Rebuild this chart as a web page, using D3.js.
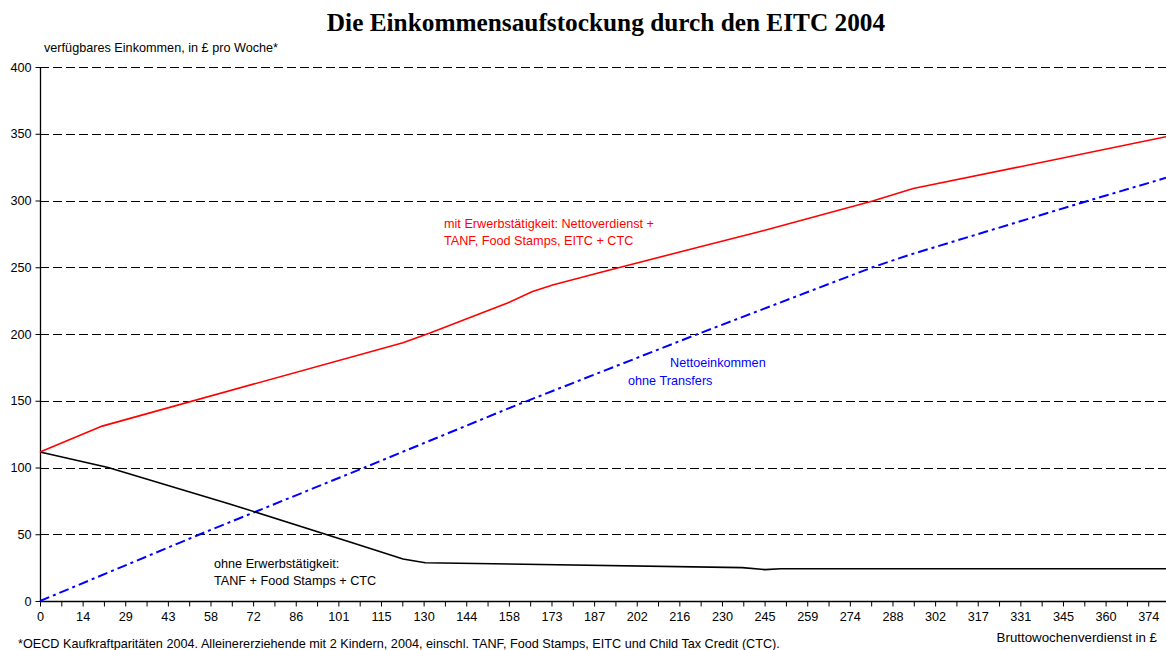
<!DOCTYPE html>
<html>
<head>
<meta charset="utf-8">
<script src="https://cdn.jsdelivr.net/npm/d3@7"></script>
<style>
body { margin: 0; background: #fff; }
text { font-family: Arial, "Liberation Sans", sans-serif; }
</style>
</head>
<body>
<svg class="plot" width="1166" height="650"></svg>
<script>
// gross weekly earnings (x) / disposable income (y)
var mitArbeit = [[0,111.6],[21,131],[122.5,193.5],[131.6,200.7],[158,223.4],[166,231.7],[173,236.7],[189,246],[222.8,265.4],[244,277.4],[281,299.6],[294.7,309],[330.8,325.3],[380,347.8]];
var ohneTransfers = [[0,0],[54,50],[109,99.5],[160,146],[222,200],[281,250],[293,259],[351,298],[380,317]];
var ohneArbeit = [[0,111.6],[23,100],[64,72.7],[104.6,44.2],[122.5,31.5],[130,28.7],[237,25],[244.7,23.5],[250,24.2],[380,24.2]];

var xTickLabels = ["0","14","29","43","58","72","86","101","115","130","144","158","173","187","202","216","230","245","259","274","288","302","317","331","345","360","374"];
var yTicks = [0,50,100,150,200,250,300,350,400];

function drawChart() {
var svg = d3.select(".plot"),
    mLeft = 40, mRight = 1166, mTop = 67, mBottom = 601,
    fs = "12.67px";

var x = d3.scaleLinear().domain([0, 380]).range([mLeft, mRight]);
var y = d3.scaleLinear().domain([0, 400]).range([mBottom, mTop]);

// title
svg.append("text")
    .attr("x", 606).attr("y", 31)
    .attr("text-anchor", "middle")
    .style("font-family", "'Liberation Serif', 'Times New Roman', serif")
    .style("font-weight", "bold")
    .style("font-size", "25.3px")
    .text("Die Einkommensaufstockung durch den EITC 2004");

svg.append("text")
    .attr("x", 44).attr("y", 52)
    .style("font-size", fs)
    .text("verfügbares Einkommen, in £ pro Woche*");

// grid
svg.append("g").selectAll("line")
    .data(yTicks.filter(function(d) { return d > 0; }))
  .enter().append("line")
    .attr("x1", mLeft).attr("x2", mRight)
    .attr("y1", function(d) { return Math.round(y(d)) + 0.5; })
    .attr("y2", function(d) { return Math.round(y(d)) + 0.5; })
    .attr("stroke", "#000")
    .attr("stroke-dasharray", "9,4");

// axes
var tickStep = 374 / 52;
var yAxis = svg.append("g")
    .attr("transform", "translate(" + (mLeft + 0.5) + ",0)")
    .call(d3.axisLeft(y).tickValues(yTicks).tickSize(5).tickPadding(4));
var xAxis = svg.append("g")
    .attr("transform", "translate(0," + (mBottom + 0.5) + ")")
    .call(d3.axisBottom(x)
      .tickValues(d3.range(53).map(function(i) { return i * tickStep; }))
      .tickSize(5).tickPadding(6)
      .tickFormat(function(d, i) { return i % 2 ? "" : xTickLabels[i / 2]; }));
svg.selectAll(".tick text").style("font-size", fs).style("font-family", "Arial, 'Liberation Sans', sans-serif").attr("fill", "#000");
svg.selectAll(".tick line").attr("stroke", "#000");
svg.selectAll(".domain").attr("stroke", "#000").attr("stroke-width", 1.3);
yAxis.select(".domain").attr("d", "M0," + mTop + "V" + mBottom);
xAxis.select(".domain").attr("d", "M" + mLeft + ",0H" + mRight);

// lines
var line = d3.line()
    .x(function(d) { return x(d[0]); })
    .y(function(d) { return y(d[1]); });

svg.append("path").datum(ohneTransfers)
    .attr("fill", "none").attr("stroke", "#0000ff")
    .attr("stroke-width", 2)
    .attr("stroke-dasharray", "10,4,3,4")
    .attr("d", line);
svg.append("path").datum(ohneArbeit)
    .attr("fill", "none").attr("stroke", "#000")
    .attr("stroke-width", 1.6)
    .attr("d", line);
svg.append("path").datum(mitArbeit)
    .attr("fill", "none").attr("stroke", "#ff0000")
    .attr("stroke-width", 1.6)
    .attr("d", line);

// annotations
function label(tx, ty, color, txt) {
  svg.append("text").attr("x", tx).attr("y", ty)
      .attr("fill", color).style("font-size", fs).text(txt);
}
label(444, 228, "#ff0000", "mit Erwerbstätigkeit: Nettoverdienst +");
label(444, 245, "#ff0000", "TANF, Food Stamps, EITC + CTC");
label(670, 367, "#0000ff", "Nettoeinkommen");
label(628, 385, "#0000ff", "ohne Transfers");
label(214, 568, "#000", "ohne Erwerbstätigkeit:");
label(214, 585, "#000", "TANF + Food Stamps + CTC");

svg.append("text")
    .attr("x", 1157).attr("y", 642)
    .attr("text-anchor", "end")
    .style("font-size", "13.3px")
    .text("Bruttowochenverdienst in £");
svg.append("text")
    .attr("x", 18).attr("y", 648)
    .style("font-size", fs)
    .text("*OECD Kaufkraftparitäten 2004. Alleinererziehende mit 2 Kindern, 2004, einschl. TANF, Food Stamps, EITC und Child Tax Credit (CTC).");
}
drawChart();
</script>
</body>
</html>
